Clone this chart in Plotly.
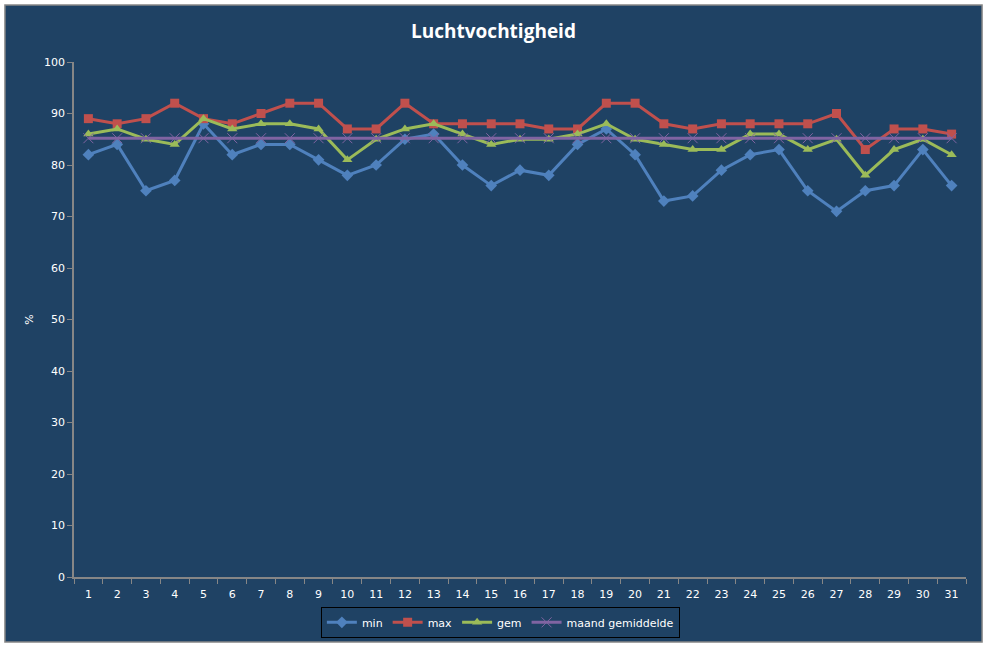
import plotly.graph_objects as go

days = [str(d) for d in range(1, 32)]
min_vals = [82, 84, 75, 77, 88, 82, 84, 84, 81, 78, 80, 85, 86, 80, 76, 79, 78, 84, 87, 82,
            73, 74, 79, 82, 83, 75, 71, 75, 76, 83, 76]
max_vals = [89, 88, 89, 92, 89, 88, 90, 92, 92, 87, 87, 92, 88, 88, 88, 88, 87, 87, 92, 92,
            88, 87, 88, 88, 88, 88, 90, 83, 87, 87, 86]
gem_vals = [86, 87, 85, 84, 89, 87, 88, 88, 87, 81, 85, 87, 88, 86, 84, 85, 85, 86, 88, 85,
            84, 83, 83, 86, 86, 83, 85, 78, 83, 85, 82]
maand_vals = [85.2, 85.2, 85.2, 85.2, 85.2, 85.2, 85.2, 85.2, 85.2, 85.2, 85.2, 85.2, 85.2,
              85.2, 85.2, 85.2, 85.2, 85.2, 85.2, 85.2, 85.2, 85.2, 85.2, 85.2, 85.2, 85.2,
              85.2, 85.2, 85.2, 85.2, 85.2]

BG = "#1F4264"
AX = "#868686"
FONT = "DejaVu Sans"

fig = go.Figure()
fig.add_trace(go.Scatter(x=days, y=min_vals, name="min", mode="lines+markers",
                         line=dict(color="#4F81BD", width=3),
                         marker=dict(symbol="diamond", size=9, color="#4F81BD")))
fig.add_trace(go.Scatter(x=days, y=max_vals, name="max", mode="lines+markers",
                         line=dict(color="#C0504D", width=3),
                         marker=dict(symbol="square", size=9, color="#C0504D")))
fig.add_trace(go.Scatter(x=days, y=gem_vals, name="gem", mode="lines+markers",
                         line=dict(color="#9BBB59", width=3),
                         marker=dict(symbol="triangle-up", size=9, color="#9BBB59")))
fig.add_trace(go.Scatter(x=days, y=maand_vals, name="maand gemiddelde", mode="lines+markers",
                         line=dict(color="#8064A2", width=3),
                         marker=dict(symbol="x-thin", size=10,
                                     line=dict(color="#8064A2", width=1), color="#8064A2")))

fig.add_shape(type="rect", xref="paper", yref="paper",
              x0=-0.0774, x1=1.018, y0=-0.1262, y1=1.1107,
              fillcolor=BG, line=dict(color=AX, width=1.5), layer="below")

fig.update_layout(
    width=987, height=648,
    margin=dict(l=74, r=21, t=62, b=71, autoexpand=False),
    paper_bgcolor="white",
    plot_bgcolor=BG,
    title=dict(text="<b>Luchtvochtigheid</b>", x=0.5, xanchor="center", y=0.951,
               yanchor="middle", font=dict(family="Open Sans", size=19, color="white")),
    font=dict(family=FONT, size=11, color="white"),
    showlegend=True,
    legend=dict(orientation="h", x=0.478, xanchor="center", y=-0.058, yanchor="top",
                bordercolor="black", borderwidth=1, bgcolor=BG,
                font=dict(family=FONT, size=11, color="white"),
                itemwidth=30, tracegroupgap=0),
    xaxis=dict(type="category", range=[-0.5, 30.5], autorange=False,
               showline=True, linecolor=AX, linewidth=1.5,
               ticks="outside", tickson="boundaries", tickcolor=AX, ticklen=5,
               ticklabelstandoff=6,
               showgrid=False, zeroline=False, tickfont=dict(family=FONT, size=11, color="white")),
    yaxis=dict(range=[0, 100], dtick=10, showline=True, linecolor=AX, linewidth=1.5,
               ticks="outside", tickcolor=AX, ticklen=5, showgrid=False, zeroline=False,
               title=dict(text="%", font=dict(family=FONT, size=11, color="white"), standoff=8),
               tickfont=dict(family=FONT, size=11, color="white")),
)

fig.write_html("out.html")
